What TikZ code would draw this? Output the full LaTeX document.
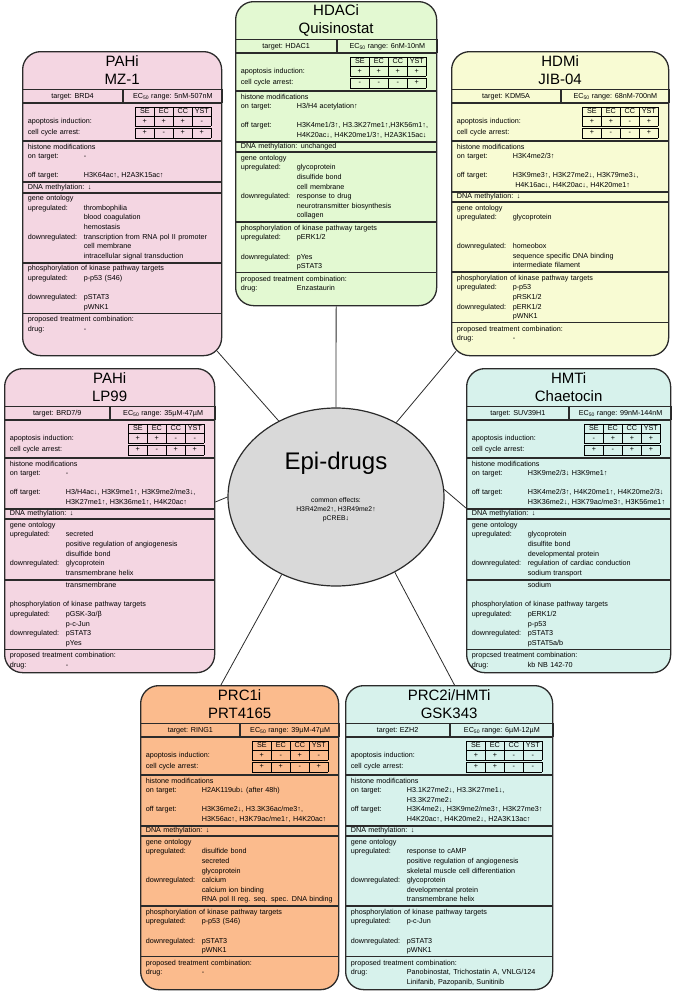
\documentclass[tikz,border=0pt]{standalone}
\usepackage{fontspec}
\setmainfont{Liberation Sans}
\usetikzlibrary{shapes.geometric}

\definecolor{pahicol}{HTML}{F4D6E2}
\definecolor{hdaccol}{HTML}{E3F9D2}
\definecolor{hdmcol}{HTML}{F8FBD3}
\definecolor{hmtcol}{HTML}{D7F2EC}
\definecolor{prccol}{HTML}{FBBB8D}
\definecolor{epicol}{HTML}{D9D9D9}
\definecolor{linecol}{HTML}{2B2B2B}

\newcommand{\cardfont}{\fontsize{7.2}{9.6}\selectfont}
\newcommand{\hd}[1]{\multicolumn{2}{@{}l@{}}{#1}}
\newcommand{\cardrows}[1]{\begin{tabular}{@{}p{56pt}@{}l@{}}#1\end{tabular}}
\newcommand{\ecf}{EC\textsubscript{50} range: }
\newcommand{\effcell}[1]{\makebox[14pt]{#1}}
\newcommand{\effects}[9]{{\setlength{\tabcolsep}{2.5pt}\setlength{\arrayrulewidth}{0.5pt}%
\begin{tabular}{@{}p{#1}|c|c|c|c|}\cline{2-5}
 & \effcell{SE} & \effcell{EC} & \effcell{CC} & \effcell{YST}\\\cline{2-5}
apoptosis induction: & \effcell{#2} & \effcell{#3} & \effcell{#4} & \effcell{#5}\\\cline{2-5}
\noalign{\vskip2pt}\cline{2-5}
cell cycle arrest: & \effcell{#6} & \effcell{#7} & \effcell{#8} & \effcell{#9}\\\cline{2-5}
\end{tabular}}}

\tikzset{
  card/.style={draw=linecol, line width=1.3pt, rounded corners=18pt, anchor=north west, minimum height=304pt, inner sep=0pt},
  cardtitle/.style={anchor=north, align=center, inner sep=0pt, minimum height=38pt, font=\fontsize{15}{18}\selectfont},
  cell/.style={draw=linecol, line width=0.8pt, anchor=north west, minimum width=#1, minimum height=13pt, inner sep=0pt, font=\cardfont},
  sec/.style={draw=linecol, line width=0.8pt, anchor=north west, text width=#1, inner xsep=5pt, inner ysep=1pt, align=left, font=\cardfont},
  lastsec/.style={sec=#1, draw=none},
  effsec/.style={minimum height=37pt, inner ysep=2pt},
  hub/.style={ellipse, draw=linecol, line width=1.2pt, fill=epicol, minimum width=216pt, minimum height=178pt, inner sep=0pt},
  link/.style={draw=linecol, line width=0.8pt}
}

\begin{document}
\begin{tikzpicture}[x=1pt, y=-1pt]
\useasboundingbox (0,0) rectangle (674,991);

% Hộp HDACi
\node[card, fill=hdaccol, minimum width=201pt] (hdac) at (235,1) {};
\node[cardtitle, text width=201pt] (hdac-ti) at (hdac.north) {HDACi\\Quisinostat};
\node[cell=100.5pt] (hdac-tg) at (hdac-ti.south west) {target: HDAC1};
\node[cell=100.5pt] (hdac-ec) at (hdac-tg.north east) {\ecf 6nM-10nM};
\node[sec=191pt, effsec] (hdac-ap) at (hdac-tg.south west) {\effects{107pt}{+}{+}{+}{+}{-}{-}{-}{+}};
\node[sec=191pt] (hdac-hm) at (hdac-ap.south west) {\cardrows{\hd{histone modifications}\\
  on target: & H3/H4 acetylation↑\\ & \\
  off target: & H3K4me1/3↑, H3.3K27me1↑,H3K56m1↑,\\ & H4K20ac↓, H4K20me1/3↑, H2A3K15ac↓}};
\node[sec=191pt, inner ysep=0pt] (hdac-dna) at (hdac-hm.south west) {\strut DNA methylation: unchanged};
\node[sec=191pt] (hdac-go) at (hdac-dna.south west) {\cardrows{\hd{gene ontology}\\
  upregulated: & glycoprotein\\ & disulfide bond\\ & cell membrane\\
  downregulated: & response to drug\\ & neurotransmitter biosynthesis\\ & collagen}};
\node[sec=191pt] (hdac-ph) at (hdac-go.south west) {\cardrows{\hd{phosphorylation of kinase pathway targets}\\
  upregulated: & pERK1/2\\ & \\ downregulated: & pYes\\ & pSTAT3}};
\node[lastsec=191pt] (hdac-tc) at (hdac-ph.south west) {\cardrows{\hd{proposed treatment combination:}\\ drug: & Enzastaurin}};

% Hộp PAHi MZ-1
\node[card, fill=pahicol, minimum width=199pt] (mz) at (22,51) {};
\node[cardtitle, text width=199pt] (mz-ti) at (mz.north) {PAHi\\MZ-1};
\node[cell=99.5pt] (mz-tg) at (mz-ti.south west) {target: BRD4};
\node[cell=99.5pt] (mz-ec) at (mz-tg.north east) {\ecf 5nM-507nM};
\node[sec=189pt, effsec] (mz-ap) at (mz-tg.south west) {\effects{105pt}{+}{+}{+}{-}{+}{-}{+}{+}};
\node[sec=189pt] (mz-hm) at (mz-ap.south west) {\cardrows{\hd{histone modifications}\\
  on target: & -\\ & \\ off target: & H3K64ac↑, H2A3K15ac↑}};
\node[sec=189pt, inner ysep=0pt] (mz-dna) at (mz-hm.south west) {\strut DNA methylation: ↓};
\node[sec=189pt] (mz-go) at (mz-dna.south west) {\cardrows{\hd{gene ontology}\\
  upregulated: & thrombophilia\\ & blood coagulation\\ & hemostasis\\
  downregulated: & transcription from RNA pol II promoter\\ & cell membrane\\ & intracellular signal transduction}};
\node[sec=189pt] (mz-ph) at (mz-go.south west) {\cardrows{\hd{phosphorylation of kinase pathway targets}\\
  upregulated: & p-p53 (S46)\\ & \\ downregulated: & pSTAT3\\ & pWNK1}};
\node[lastsec=189pt] (mz-tc) at (mz-ph.south west) {\cardrows{\hd{proposed treatment combination:}\\ drug: & -}};

% Hộp HDMi JIB-04
\node[card, fill=hdmcol, minimum width=217pt] (hdm) at (451,51) {};
\node[cardtitle, text width=217pt] (hdm-ti) at (hdm.north) {HDMi\\JIB-04};
\node[cell=108.5pt] (hdm-tg) at (hdm-ti.south west) {target: KDM5A};
\node[cell=108.5pt] (hdm-ec) at (hdm-tg.north east) {\ecf 68nM-700nM};
\node[sec=207pt, effsec] (hdm-ap) at (hdm-tg.south west) {\effects{123pt}{+}{+}{-}{+}{+}{-}{-}{+}};
\node[sec=207pt] (hdm-hm) at (hdm-ap.south west) {\cardrows{\hd{histone modifications}\\
  on target: & H3K4me2/3↑\\ & \\
  off target: & H3K9me3↑, H3K27me2↓, H3K79me3↓,\\ & \ H4K16ac↓, H4K20ac↓, H4K20me1↑}};
\node[sec=207pt, inner ysep=0pt] (hdm-dna) at (hdm-hm.south west) {\strut DNA methylation: ↓};
\node[sec=207pt] (hdm-go) at (hdm-dna.south west) {\cardrows{\hd{gene ontology}\\
  upregulated: & glycoprotein\\ & \\ & \\
  downregulated: & homeobox\\ & sequence specific DNA binding\\ & intermediate filament}};
\node[sec=207pt] (hdm-ph) at (hdm-go.south west) {\cardrows{\hd{phosphorylation of kinase pathway targets}\\
  upregulated: & p-p53\\ & pRSK1/2\\ downregulated: & pERK1/2\\ & pWNK1}};
\node[lastsec=207pt] (hdm-tc) at (hdm-ph.south west) {\cardrows{\hd{proposed treatment combination:}\\ drug: & -}};

% Hộp PAHi LP99
\node[card, fill=pahicol, minimum width=210pt] (lp) at (4,368) {};
\node[cardtitle, text width=210pt] (lp-ti) at (lp.north) {PAHi\\LP99};
\node[cell=105pt] (lp-tg) at (lp-ti.south west) {target: BRD7/9};
\node[cell=105pt] (lp-ec) at (lp-tg.north east) {\ecf 35µM-47µM};
\node[sec=200pt, effsec] (lp-ap) at (lp-tg.south west) {\effects{116pt}{+}{+}{-}{-}{+}{-}{+}{+}};
\node[sec=200pt] (lp-hm) at (lp-ap.south west) {\cardrows{\hd{histone modifications}\\
  on target: & -\\ & \\
  off target: & H3/H4ac↓, H3K9me1↑, H3K9me2/me3↓,\\ & H3K27me1↑, H3K36me1↑, H4K20ac↑}};
\node[sec=200pt, inner ysep=0pt] (lp-dna) at (lp-hm.south west) {\strut DNA methylation: ↓};
\node[sec=200pt] (lp-go) at (lp-dna.south west) {\cardrows{\hd{gene ontology}\\
  upregulated: & secreted\\ & positive regulation of angiogenesis\\ & disulfide bond\\
  downregulated: & glycoprotein\\ & transmembrane helix}};
\node[sec=200pt] (lp-ph) at (lp-go.south west) {\cardrows{ & transmembrane\\ & \\
  \hd{phosphorylation of kinase pathway targets}\\
  upregulated: & pGSK-3α/β\\ & p-c-Jun\\ downregulated: & pSTAT3\\ & pYes}};
\node[lastsec=200pt] (lp-tc) at (lp-ph.south west) {\cardrows{\hd{proposed treatment combination:}\\ drug: & -}};

% Hộp HMTi Chaetocin
\node[card, fill=hmtcol, minimum width=204pt] (hmt) at (466,368) {};
\node[cardtitle, text width=204pt] (hmt-ti) at (hmt.north) {HMTi\\Chaetocin};
\node[cell=102pt] (hmt-tg) at (hmt-ti.south west) {target: SUV39H1};
\node[cell=102pt] (hmt-ec) at (hmt-tg.north east) {\ecf 99nM-144nM};
\node[sec=194pt, effsec] (hmt-ap) at (hmt-tg.south west) {\effects{110pt}{-}{+}{+}{+}{+}{-}{+}{+}};
\node[sec=194pt] (hmt-hm) at (hmt-ap.south west) {\cardrows{\hd{histone modifications}\\
  on target: & H3K9me2/3↓ H3K9me1↑\\ & \\
  off target: & H3K4me2/3↑, H4K20me1↑, H4K20me2/3↓\\ & H3K36me2↓, H3K79ac/me3↑, H3K56me1↑}};
\node[sec=194pt, inner ysep=0pt] (hmt-dna) at (hmt-hm.south west) {\strut DNA methylation: ↓};
\node[sec=194pt] (hmt-go) at (hmt-dna.south west) {\cardrows{\hd{gene ontology}\\
  upregulated: & glycoprotein\\ & disulfite bond\\ & developmental protein\\
  downregulated: & regulation of cardiac conduction\\ & sodium transport}};
\node[sec=194pt] (hmt-ph) at (hmt-go.south west) {\cardrows{ & sodium\\ & \\
  \hd{phosphorylation of kinase pathway targets}\\
  upregulated: & pERK1/2\\ & p-p53\\ downregulated: & pSTAT3\\ & pSTAT5a/b}};
\node[lastsec=194pt] (hmt-tc) at (hmt-ph.south west) {\cardrows{\hd{propcsed treatment combination:}\\ drug: & kb NB 142-70}};

% Hộp PRC1i PRT4165
\node[card, fill=prccol, minimum width=198pt] (prc1) at (140,685) {};
\node[cardtitle, text width=198pt] (prc1-ti) at (prc1.north) {PRC1i\\PRT4165};
\node[cell=99pt] (prc1-tg) at (prc1-ti.south west) {target: RING1};
\node[cell=99pt] (prc1-ec) at (prc1-tg.north east) {\ecf 39µM-47µM};
\node[sec=188pt, effsec] (prc1-ap) at (prc1-tg.south west) {\effects{104pt}{+}{-}{+}{-}{+}{+}{-}{+}};
\node[sec=188pt] (prc1-hm) at (prc1-ap.south west) {\cardrows{\hd{histone modifications}\\
  on target: & H2AK119ub↓ (after 48h)\\ & \\
  off target: & H3K36me2↓, H3.3K36ac/me3↑,\\ & H3K56ac↑, H3K79ac/me1↑, H4K20ac↑}};
\node[sec=188pt, inner ysep=0pt] (prc1-dna) at (prc1-hm.south west) {\strut DNA methylation: ↓};
\node[sec=188pt] (prc1-go) at (prc1-dna.south west) {\cardrows{\hd{gene ontology}\\
  upregulated: & disulfide bond\\ & secreted\\ & glycoprotein\\
  downregulated: & calcium\\ & calcium ion binding\\ & RNA pol II reg. seq. spec. DNA binding}};
\node[sec=188pt] (prc1-ph) at (prc1-go.south west) {\cardrows{\hd{phosphorylation of kinase pathway targets}\\
  upregulated: & p-p53 (S46)\\ & \\ downregulated: & pSTAT3\\ & pWNK1}};
\node[lastsec=188pt] (prc1-tc) at (prc1-ph.south west) {\cardrows{\hd{proposed treatment combination:}\\ drug: & -}};

% Hộp PRC2i/HMTi GSK343
\node[card, fill=hmtcol, minimum width=207pt] (prc2) at (345,685) {};
\node[cardtitle, text width=207pt] (prc2-ti) at (prc2.north) {PRC2i/HMTi\\GSK343};
\node[cell=103.5pt] (prc2-tg) at (prc2-ti.south west) {target: EZH2};
\node[cell=103.5pt] (prc2-ec) at (prc2-tg.north east) {\ecf 6µM-12µM};
\node[sec=197pt, effsec] (prc2-ap) at (prc2-tg.south west) {\effects{113pt}{+}{+}{-}{-}{+}{+}{-}{-}};
\node[sec=197pt] (prc2-hm) at (prc2-ap.south west) {\cardrows{\hd{histone modifications}\\
  on target: & H3.1K27me2↓, H3.3K27me1↓,\\ & H3.3K27me2↓\\
  off target: & H3K4me2↓, H3K9me2/me3↑, H3K27me3↑\\ & H4K20ac↑, H4K20me2↓, H2A3K13ac↑}};
\node[sec=197pt, inner ysep=0pt] (prc2-dna) at (prc2-hm.south west) {\strut DNA methylation: ↓};
\node[sec=197pt] (prc2-go) at (prc2-dna.south west) {\cardrows{\hd{gene ontology}\\
  upregulated: & response to cAMP\\ & positive regulation of angiogenesis\\ & skeletal muscle cell differentiation\\
  downregulated: & glycoprotein\\ & developmental protein\\ & transmembrane helix}};
\node[sec=197pt] (prc2-ph) at (prc2-go.south west) {\cardrows{\hd{phosphorylation of kinase pathway targets}\\
  upregulated: & p-c-Jun\\ & \\ downregulated: & pSTAT3\\ & pWNK1}};
\node[lastsec=197pt] (prc2-tc) at (prc2-ph.south west) {\cardrows{\hd{proposed treatment combination:}\\
  drug: & Panobinostat, Trichostatin A, VNLG/124\\ & Linifanib, Pazopanib, Sunitinib}};

% Hình elip ở giữa
\node[hub] (epi) at (336,497) {};
\node[font=\fontsize{24}{28}\selectfont] (epi-t) at (336,463) {Epi-drugs};
\node[align=center, font=\fontsize{6.8}{9}\selectfont] (epi-c) at (336,510) {common effects:\\H3R42me2↑, H3R49me2↑\\pCREB↓};

% Đường nối
\draw[link] (hdac.south) -- (epi.north);
\draw[link] ([xshift=-5pt,yshift=5pt]mz.south east) -- (epi.127);
\draw[link] ([xshift=5pt,yshift=5pt]hdm.south west) -- (epi.51);
\draw[link] (lp.10) -- (epi.180);
\draw[link] (epi.4) -- (hmt.173);
\draw[link] (epi.235) -- (prc1.97);
\draw[link] (epi.-52) -- (prc2.88);
\end{tikzpicture}
\end{document}
